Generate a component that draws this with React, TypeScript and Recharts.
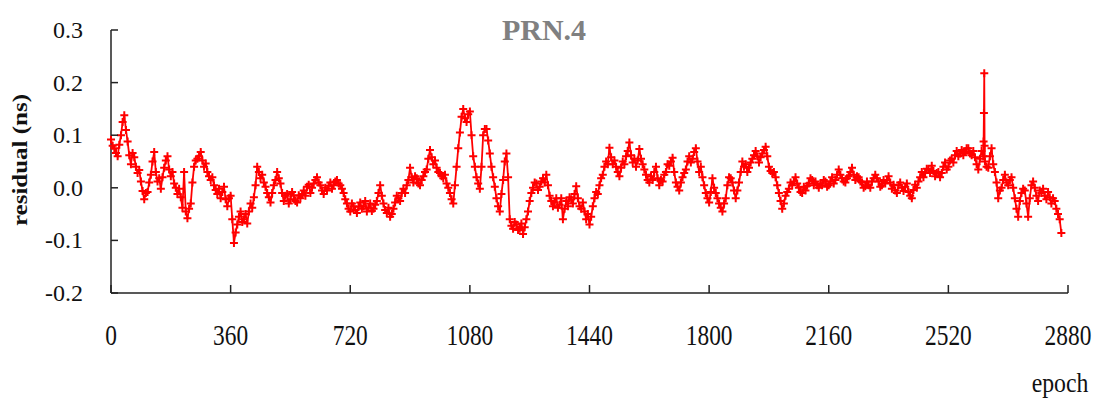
import { LineChart, Line, XAxis, YAxis } from 'recharts'

// residuals, one value every 5 epochs starting at epoch 0
// (each row covers 100 epochs)
const STEP = 5
const RESIDUALS = [
  0.092, 0.080, 0.075, 0.066, 0.060, 0.082, 0.100, 0.125, 0.138, 0.110, 0.088, 0.062, 0.045, 0.066, 0.058, 0.040, 0.028, 0.034, 0.012, -0.006,
  -0.022, -0.010, -0.008, 0.010, 0.025, 0.050, 0.068, 0.030, 0.012, 0.018, -0.002, 0.020, 0.038, 0.052, 0.060, 0.035, 0.022, 0.030, 0.008, 0.000,
  -0.012, -0.002, -0.018, -0.038, 0.030, -0.045, -0.058, -0.040, -0.030, 0.010, 0.040, 0.052, 0.055, 0.060, 0.068, 0.052, 0.040, 0.046, 0.030, 0.022,
  0.015, 0.020, 0.005, -0.004, -0.012, -0.002, -0.020, -0.008, 0.002, -0.022, -0.035, -0.020, -0.015, -0.060, -0.105, -0.085, -0.070, -0.055, -0.045, -0.065,
  -0.060, -0.050, -0.068, -0.045, -0.030, -0.038, -0.018, 0.005, 0.040, 0.030, 0.018, 0.025, 0.010, 0.002, -0.010, -0.018, -0.028, -0.010, 0.005, 0.015,
  0.030, 0.018, 0.008, -0.010, -0.025, -0.015, -0.012, -0.030, -0.022, -0.008, -0.015, -0.025, -0.028, -0.014, -0.020, -0.012, -0.005, -0.015, 0.002, 0.006,
  -0.010, 0.000, 0.008, 0.015, 0.020, 0.010, 0.005, -0.005, -0.012, 0.000, -0.005, 0.004, 0.010, -0.002, 0.005, 0.012, 0.015, 0.008, 0.005, -0.002,
  -0.010, -0.022, -0.030, -0.040, -0.045, -0.030, -0.035, -0.042, -0.048, -0.036, -0.028, -0.040, -0.035, -0.025, -0.045, -0.038, -0.030, -0.044, -0.040, -0.032,
  -0.025, -0.010, 0.005, -0.015, -0.030, -0.042, -0.048, -0.038, -0.055, -0.050, -0.040, -0.028, -0.015, -0.020, -0.025, -0.010, -0.002, -0.010, 0.005, 0.015,
  0.038, 0.020, 0.010, 0.022, 0.018, 0.008, 0.005, 0.015, 0.022, 0.030, 0.035, 0.055, 0.072, 0.058, 0.045, 0.052, 0.038, 0.030, 0.028, 0.022,
  0.018, 0.025, 0.008, 0.000, -0.010, -0.022, -0.030, 0.005, 0.040, 0.075, 0.105, 0.135, 0.150, 0.132, 0.125, 0.140, 0.145, 0.100, 0.060, 0.040,
  0.020, 0.008, -0.002, 0.040, 0.100, 0.112, 0.112, 0.090, 0.065, 0.040, 0.020, 0.002, -0.020, -0.035, -0.045, -0.012, 0.015, 0.050, 0.065, 0.020,
  -0.060, -0.072, -0.078, -0.065, -0.070, -0.080, -0.078, -0.068, -0.088, -0.075, -0.060, -0.045, -0.025, -0.010, 0.000, 0.010, 0.008, -0.004, 0.002, 0.012,
  0.018, 0.010, 0.025, 0.005, -0.015, -0.025, -0.035, -0.028, -0.020, -0.038, -0.032, -0.020, -0.060, -0.040, -0.025, -0.035, -0.018, -0.022, -0.030, -0.012,
  0.003, -0.020, -0.035, -0.040, -0.028, -0.045, -0.060, -0.050, -0.070, -0.055, -0.035, -0.020, -0.008, -0.012, 0.005, 0.018, 0.025, 0.040, 0.050, 0.045,
  0.076, 0.058, 0.045, 0.052, 0.040, 0.030, 0.022, 0.038, 0.050, 0.045, 0.060, 0.070, 0.086, 0.062, 0.048, 0.055, 0.040, 0.052, 0.074, 0.055,
  0.045, 0.035, 0.025, 0.015, 0.010, 0.022, 0.015, 0.030, 0.040, 0.018, 0.005, 0.015, 0.012, 0.025, 0.030, 0.045, 0.042, 0.050, 0.057, 0.030,
  0.010, 0.002, -0.005, 0.010, 0.020, 0.028, 0.035, 0.050, 0.060, 0.048, 0.055, 0.068, 0.075, 0.050, 0.030, 0.040, 0.020, 0.005, -0.010, -0.020,
  -0.028, -0.008, 0.018, 0.000, -0.010, -0.020, -0.030, -0.038, -0.045, -0.030, -0.020, 0.005, 0.020, 0.018, 0.010, -0.005, -0.020, -0.005, 0.010, 0.030,
  0.050, 0.040, 0.045, 0.030, 0.038, 0.048, 0.055, 0.062, 0.070, 0.060, 0.048, 0.058, 0.065, 0.072, 0.078, 0.060, 0.040, 0.032, 0.028, 0.030,
  0.020, 0.005, -0.010, -0.025, -0.040, -0.030, -0.015, -0.008, -0.002, 0.010, 0.005, 0.012, 0.020, 0.008, 0.000, -0.008, -0.010, 0.002, -0.005, 0.004,
  0.008, 0.018, 0.015, 0.005, 0.012, 0.005, 0.000, 0.008, 0.005, 0.015, 0.012, 0.002, 0.005, 0.012, 0.020, 0.008, 0.015, 0.025, 0.035, 0.025,
  0.018, 0.012, 0.010, 0.018, 0.022, 0.030, 0.038, 0.025, 0.015, 0.022, 0.020, 0.012, 0.010, 0.000, 0.003, 0.012, 0.005, 0.000, 0.012, 0.018,
  0.025, 0.018, 0.012, 0.002, 0.005, 0.015, 0.008, 0.015, 0.022, 0.010, -0.002, 0.006, -0.005, -0.010, 0.005, 0.010, 0.000, -0.006, 0.002, 0.008,
  -0.008, -0.015, -0.020, -0.004, 0.006, 0.000, 0.012, 0.020, 0.030, 0.020, 0.028, 0.036, 0.035, 0.028, 0.042, 0.032, 0.022, 0.028, 0.030, 0.020,
  0.028, 0.040, 0.048, 0.035, 0.040, 0.052, 0.055, 0.048, 0.062, 0.070, 0.060, 0.065, 0.072, 0.062, 0.068, 0.075, 0.075, 0.065, 0.062, 0.070,
  0.058, 0.045, 0.035, 0.055, 0.070, 0.060, 0.050, 0.040, 0.038, 0.060, 0.075, 0.045, 0.030, 0.010, -0.020, -0.005, 0.000, 0.015, 0.025, 0.010,
  0.005, 0.015, 0.020, 0.000, -0.020, -0.040, -0.055, -0.025, -0.010, -0.002, -0.005, -0.030, -0.055, -0.020, 0.005, 0.012, 0.000, -0.015, -0.025, -0.005,
  -0.010, -0.002, -0.015, -0.022, -0.008, -0.018, -0.030, -0.020, -0.025, -0.040, -0.050, -0.060, -0.086,
]

// the outlier near epoch 2627 (vertical spike)
const SPIKE_EPOCHS = [2626, 2627, 2628, 2629]
const SPIKE_VALUES = [0.088, 0.142, 0.218, 0.080]

const X_TICKS = [0, 360, 720, 1080, 1440, 1800, 2160, 2520, 2880]
const Y_TICKS = [-0.2, -0.1, 0.0, 0.1, 0.2, 0.3]

const data = [
  ...RESIDUALS.map((v, i) => ({ epoch: i * STEP, residual: v })),
  ...SPIKE_EPOCHS.map((e, i) => ({ epoch: e, residual: SPIKE_VALUES[i] })),
].sort((a, b) => a.epoch - b.epoch)

const RED = '#ff0000'
const AXIS = '#222'
const SERIF = '"Liberation Serif", "Times New Roman", serif'

const PlusDot = (props: any) => {
  const { cx, cy, index } = props
  if (cx == null || cy == null) return <g key={index} />
  return (
    <path key={index} d={`M${cx - 4},${cy}h8M${cx},${cy - 4}v8`} stroke={RED} strokeWidth={2} fill="none" />
  )
}

const YTick = (props: any) => {
  const { x, y, payload } = props
  return (
    <g>
      <line x1={x} x2={x + 7} y1={y} y2={y} stroke={AXIS} strokeWidth={1.5} />
      <text x={x - 28} y={y} dy={8} textAnchor="end" fontFamily={SERIF} fontSize={24} fill="#111">
        {Number(payload.value).toFixed(1)}
      </text>
    </g>
  )
}

const XTick = (props: any) => {
  const { x, y, payload } = props
  return (
    <g>
      <line x1={x} x2={x} y1={y} y2={y - 8} stroke={AXIS} strokeWidth={1.5} />
      <text transform={`translate(${x},${y + 52}) scale(0.9,1.1)`} textAnchor="middle" fontFamily={SERIF} fontSize={26} fill="#111">
        {payload.value}
      </text>
    </g>
  )
}

export default function App() {
  return (
    <div style={{ position: 'absolute', left: 0, top: 0, width: 1100, height: 401, background: '#fff' }}>
      <LineChart width={1100} height={401} data={data} margin={{ top: 30, right: 32, left: 0, bottom: 48 }}>
        <XAxis
          dataKey="epoch"
          type="number"
          domain={[0, 2880]}
          ticks={X_TICKS}
          interval={0}
          tick={<XTick />}
          tickSize={0}
          tickMargin={0}
          height={60}
          stroke={AXIS}
          strokeWidth={1.5}
        />
        <YAxis
          type="number"
          domain={[-0.2, 0.3]}
          ticks={Y_TICKS}
          interval={0}
          tick={<YTick />}
          tickSize={0}
          tickMargin={0}
          width={111}
          stroke={AXIS}
          strokeWidth={1.5}
          allowDataOverflow
        />
        <Line
          type="linear"
          dataKey="residual"
          stroke={RED}
          strokeWidth={1.8}
          dot={PlusDot}
          activeDot={false}
          isAnimationActive={false}
        />
        <text x={544} y={40} textAnchor="middle" fontFamily={SERIF} fontWeight="bold" fontSize={30} fill="#808080">
          PRN.4
        </text>
        <text transform="translate(27,160) rotate(-90) scale(1.25,1)" textAnchor="middle" fontFamily={SERIF} fontWeight="bold" fontSize={20} fill="#111">
          residual (ns)
        </text>
        <text transform="translate(1060,392) scale(0.95,1.1)" textAnchor="middle" fontFamily={SERIF} fontSize={25} fill="#111">
          epoch
        </text>
      </LineChart>
    </div>
  )
}
